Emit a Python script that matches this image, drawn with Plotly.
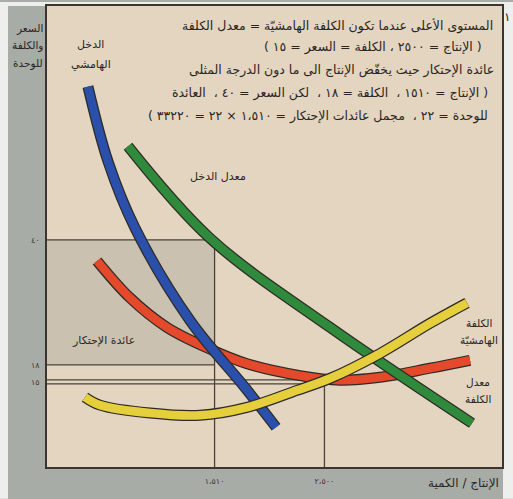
import plotly.graph_objects as go

W, H = 513, 499
L, R, T, B = 47, 11, 4, 32
X_MAX = 4100
Y_MAX = 81.2

# ---- data ----
mr_q = [369, 550, 793, 1289, 1784, 2064]            # الدخل الهامشي (blue)
mr_p = [67.0, 53.8, 42.1, 25.8, 14.0, 7.0]
ar_q = [730, 1469, 2550, 3830]                      # معدل الدخل (green)
ar_p = [56.5, 40.3, 24.6, 7.7]
ac_q = [451, 748, 1081, 1442, 1802, 2280, 2640, 3001, 3451, 3812]   # معدل الكلفة (red)
ac_p = [36.3, 29.8, 24.6, 21.0, 18.2, 16.1, 15.3, 15.8, 17.4, 18.8]
mc_q = [342, 478, 928, 1379, 1802, 2253, 2550, 3001, 3451, 3785]    # الكلفة الهامشية (yellow)
mc_p = [12.3, 10.9, 9.5, 9.1, 10.5, 13.5, 15.6, 20.0, 25.3, 28.9]

q_mono, q_opt = 1510, 2500
p_mono, c_mono, c_opt = 40, 18, 15

x_tickvals = [q_mono, q_opt]
x_ticktext = ["١،٥١٠", "٢،٥٠٠"]
y_tickvals = [c_opt, c_mono, p_mono]
y_ticktext = ["١٥", "١٨", "٤٠"]

note_lines = [
    "المستوى الأعلى عندما تكون الكلفة الهامشيّة = معدل الكلفة",
    "( الإنتاج = ٢٥٠٠ ، الكلفة = السعر = ١٥ )",
    "عائدة الإحتكار حيث يخفّض الإنتاج الى ما دون الدرجة المثلى",
    "( الإنتاج = ١٥١٠ ،  الكلفة = ١٨ ،  لكن السعر = ٤٠ ،  العائدة",
    "للوحدة = ٢٢ ،  مجمل عائدات الإحتكار = ١،٥١٠ × ٢٢ = ٣٣٢٢٠ )",
]

RLM = "\u200f"
FONT = "DejaVu Sans"
INK = "#2b2622"
BEIGE = "#e4d5c0"
SHADE = "#cbc1b1"
STRIP = "#a8aca7"
PAGE = "#eeeeec"
OUTLINE = "#2e2a26"


def ax(px):
    return (px - L) / (W - L - R)


def ay(py):
    return (H - B - py) / (H - T - B)


fig = go.Figure()

series = [
    (ac_q, ac_p, "#e5492b"),
    (ar_q, ar_p, "#2f8a3c"),
    (mr_q, mr_p, "#2b50ab"),
    (mc_q, mc_p, "#e6cf3c"),
]
for qs, ps, col in series:
    fig.add_trace(go.Scatter(x=qs, y=ps, mode="lines",
                             line=dict(color=OUTLINE, width=11, shape="spline", smoothing=1.0),
                             hoverinfo="skip", showlegend=False))
    fig.add_trace(go.Scatter(x=qs, y=ps, mode="lines",
                             line=dict(color=col, width=8.5, shape="spline", smoothing=1.0),
                             hoverinfo="skip", showlegend=False))

shapes = []
# page margins (white)
shapes.append(dict(type="rect", xref="paper", yref="paper", x0=ax(0), x1=ax(8), y0=ay(H), y1=ay(0),
                   fillcolor=PAGE, line_width=0, layer="below"))
shapes.append(dict(type="rect", xref="paper", yref="paper", x0=ax(0), x1=ax(W), y0=ay(4), y1=ay(0),
                   fillcolor=PAGE, line_width=0, layer="below"))
shapes.append(dict(type="rect", xref="paper", yref="paper", x0=ax(503), x1=ax(W), y0=ay(H), y1=ay(0),
                   fillcolor=PAGE, line_width=0, layer="below"))
# monopoly profit rectangle
shapes.append(dict(type="rect", xref="x", yref="y", x0=0, x1=q_mono, y0=c_mono, y1=p_mono,
                   fillcolor=SHADE, line_width=0, layer="below"))
GL = dict(color="#4a423b", width=1.3)
shapes += [
    dict(type="line", xref="x", yref="y", x0=0, x1=q_mono, y0=p_mono, y1=p_mono, line=GL, layer="below"),
    dict(type="line", xref="x", yref="y", x0=q_mono, x1=q_mono, y0=0, y1=p_mono, line=GL, layer="below"),
    dict(type="line", xref="x", yref="y", x0=0, x1=q_mono, y0=c_mono, y1=c_mono, line=GL, layer="below"),
    dict(type="line", xref="x", yref="y", x0=0, x1=q_opt, y0=c_opt + 0.35, y1=c_opt + 0.35, line=GL, layer="below"),
    dict(type="line", xref="x", yref="y", x0=0, x1=q_opt, y0=c_opt - 0.35, y1=c_opt - 0.35, line=GL, layer="below"),
    dict(type="line", xref="x", yref="y", x0=q_opt, x1=q_opt, y0=0, y1=c_opt, line=GL, layer="below"),
]

ann = []


def txt(text, px, py, size=12, xanchor="center", color=INK):
    ann.append(dict(text=text, x=ax(px), y=ay(py), xref="paper", yref="paper",
                    showarrow=False, xanchor=xanchor, yanchor="middle",
                    font=dict(family=FONT, size=size, color=color)))


note_y = [24, 45, 68, 91, 114]
note_right = [495, 484, 496, 490, 490]
for line, py, pr in zip(note_lines, note_y, note_right):
    txt(RLM + line + RLM, pr, py, size=12.5, xanchor="right")

txt("الدخل", 90, 43, 11)
txt("الهامشي", 91, 63, 11)
txt("معدل الدخل", 218, 175, 11)
txt("عائدة الإحتكار", 103, 340, 11)
txt("الكلفة", 479, 322, 10.5)
txt("الهامشيّة", 479, 340, 10.5)
txt("معدل", 478, 382, 10.5)
txt("الكلفة", 478, 399, 10.5)
txt("السعر", 45, 27, 10.5, xanchor="right")
txt("والكلفة", 45, 44, 10.5, xanchor="right")
txt("للوحدة", 45, 62, 10.5, xanchor="right")
txt("الإنتاج / الكمية", 501, 483, 12, xanchor="right")
txt("١", 507, 15, 12, color="#222")

fig.update_layout(
    width=W, height=H,
    margin=dict(l=L, r=R, t=T, b=B, pad=0),
    paper_bgcolor=STRIP, plot_bgcolor=BEIGE,
    shapes=shapes, annotations=ann,
    xaxis=dict(range=[0, X_MAX], showgrid=False, zeroline=False,
               tickvals=x_tickvals, ticktext=x_ticktext, ticks="",
               tickfont=dict(family=FONT, size=8, color="#3a3530"),
               ticklabelstandoff=6,
               showline=True, mirror=True, linecolor="#3a3530", linewidth=1.5,
               fixedrange=True),
    yaxis=dict(range=[0, Y_MAX], showgrid=False, zeroline=False,
               tickvals=y_tickvals, ticktext=y_ticktext, ticks="",
               tickfont=dict(family=FONT, size=8, color="#3a3530"),
               ticklabelstandoff=4,
               showline=True, mirror=True, linecolor="#3a3530", linewidth=1.5,
               fixedrange=True),
)

fig.write_html("out.html", config={"displayModeBar": False},
               post_script="document.body.style.margin='0';document.body.style.overflow='hidden';")
